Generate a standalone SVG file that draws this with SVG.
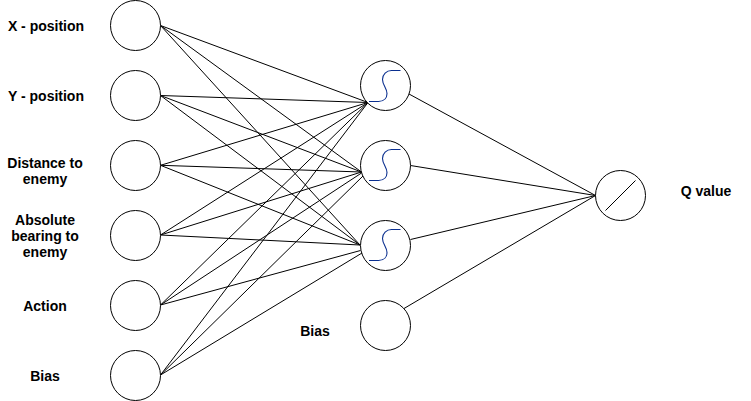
<svg xmlns="http://www.w3.org/2000/svg" width="751" height="401" viewBox="0 0 751 401">
<style>
.n{fill:#fff;stroke:#000;stroke-width:1}
.c{fill:none;stroke:#000;stroke-width:1}
.s{fill:none;stroke:#0a2f8f;stroke-width:1.1}
.t{font-family:"Liberation Sans",Arial,sans-serif;font-size:14px;font-weight:bold;fill:#000;text-anchor:middle}
</style>
<defs><path id="sig" class="s" d="M-16.500 15.500H-7C-1 15.500 1.500 11.500 1.500 7.500C1.500 2.500 -3 -1 -3 -6.500C-3 -11.500 1 -15.500 6 -15.500H15"/></defs>
<rect width="751" height="401" fill="#fff"/>
<g id="connectors">
<path class="c" d="M160.500 25.500L368 102.500M160.500 25.500L361.500 172M160.500 25.500L360 245"/>
<path class="c" d="M160.500 95.500L368 102.500M160.500 95.500L361.500 172M160.500 95.500L360 245"/>
<path class="c" d="M160.500 165.300L368 102.500M160.500 165.300L361.500 172M160.500 165.300L360 245"/>
<path class="c" d="M160.500 235L368 102.500M160.500 235L361.500 172M160.500 235L360 245"/>
<path class="c" d="M160.500 305L368 102.500M160.500 305L361.500 173M160.500 305L360.500 250.500"/>
<path class="c" d="M160.500 375L368 102.500M160.500 375L363.500 175.500M160.500 375L362 253"/>
<path class="c" d="M409 94L595.500 195.500M410.500 165.500L595.500 195.500M410.500 239.500L595.500 195.500M404 308.500L595.500 195.500"/>
</g>
<g id="input-x"><circle class="n" cx="135.500" cy="25.500" r="25"/></g>
<g id="input-y"><circle class="n" cx="135.500" cy="95.500" r="25"/></g>
<g id="input-distance"><circle class="n" cx="135.500" cy="165.500" r="25"/></g>
<g id="input-bearing"><circle class="n" cx="135.500" cy="235.500" r="25"/></g>
<g id="input-action"><circle class="n" cx="135.500" cy="305.500" r="25"/></g>
<g id="input-bias"><circle class="n" cx="135.500" cy="375.500" r="25"/></g>
<g id="hidden-1"><circle class="n" cx="385.500" cy="85.500" r="25"/><use href="#sig" x="385.500" y="86"/></g>
<g id="hidden-2"><circle class="n" cx="385.500" cy="165.500" r="25"/><use href="#sig" x="385.500" y="165"/></g>
<g id="hidden-3"><circle class="n" cx="385.500" cy="245.500" r="25"/><use href="#sig" x="385.500" y="245"/></g>
<g id="hidden-bias"><circle class="n" cx="385.500" cy="325.500" r="25"/></g>
<g id="output"><circle class="n" cx="620.500" cy="195.500" r="25"/><path class="c" d="M605.500 210.500L635.500 180.500"/></g>
<g id="labels">
<text class="t" x="46" y="31">X - position</text>
<text class="t" x="46" y="101">Y - position</text>
<text class="t" x="45" y="168">Distance to</text>
<text class="t" x="45" y="184">enemy</text>
<text class="t" x="45" y="225">Absolute</text>
<text class="t" x="45" y="241">bearing to</text>
<text class="t" x="45" y="257">enemy</text>
<text class="t" x="45" y="311">Action</text>
<text class="t" x="45" y="381">Bias</text>
<text class="t" x="315" y="336">Bias</text>
<text class="t" x="706" y="196">Q value</text>
</g>
</svg>
